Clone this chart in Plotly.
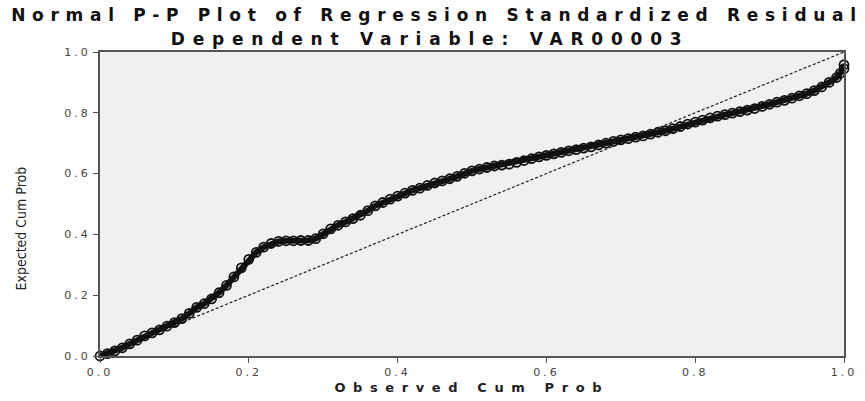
import plotly.graph_objects as go

# Observed cumulative probability (x) and expected cumulative probability (y)
observed_cum_prob = [
    0.000, 0.010, 0.020, 0.030, 0.040, 0.050, 0.060, 0.070, 0.080, 0.090,
    0.100, 0.110, 0.120, 0.130, 0.140, 0.150, 0.160, 0.170, 0.180, 0.190,
    0.200, 0.210, 0.220, 0.230, 0.240, 0.250, 0.260, 0.270, 0.280, 0.290,
    0.300, 0.310, 0.320, 0.330, 0.340, 0.350, 0.360, 0.370, 0.380, 0.390,
    0.400, 0.410, 0.420, 0.430, 0.440, 0.450, 0.460, 0.470, 0.480, 0.490,
    0.500, 0.510, 0.520, 0.530, 0.540, 0.550, 0.560, 0.570, 0.580, 0.590,
    0.600, 0.610, 0.620, 0.630, 0.640, 0.650, 0.660, 0.670, 0.680, 0.690,
    0.700, 0.710, 0.720, 0.730, 0.740, 0.750, 0.760, 0.770, 0.780, 0.790,
    0.800, 0.810, 0.820, 0.830, 0.840, 0.850, 0.860, 0.870, 0.880, 0.890,
    0.900, 0.910, 0.920, 0.930, 0.940, 0.950, 0.960, 0.970, 0.980, 0.990,
    0.995, 1.000, 1.000,
]
expected_cum_prob = [
    0.000, 0.008, 0.017, 0.027, 0.040, 0.052, 0.066, 0.076, 0.086, 0.098,
    0.110, 0.123, 0.140, 0.160, 0.172, 0.188, 0.208, 0.232, 0.260, 0.290,
    0.318, 0.341, 0.358, 0.370, 0.377, 0.379, 0.379, 0.380, 0.380, 0.386,
    0.402, 0.418, 0.430, 0.441, 0.452, 0.463, 0.478, 0.494, 0.505, 0.516,
    0.526, 0.536, 0.545, 0.552, 0.561, 0.569, 0.576, 0.583, 0.591, 0.601,
    0.609, 0.615, 0.620, 0.625, 0.628, 0.631, 0.637, 0.643, 0.649, 0.655,
    0.660, 0.665, 0.670, 0.675, 0.679, 0.684, 0.688, 0.694, 0.700, 0.706,
    0.711, 0.715, 0.720, 0.724, 0.730, 0.736, 0.741, 0.748, 0.755, 0.763,
    0.769, 0.776, 0.783, 0.789, 0.794, 0.799, 0.804, 0.809, 0.814, 0.821,
    0.828, 0.835, 0.841, 0.848, 0.856, 0.863, 0.873, 0.885, 0.900, 0.916,
    0.930, 0.945, 0.958,
]
reference_line = [0.0, 1.0]
tick_values = [0.0, 0.2, 0.4, 0.6, 0.8, 1.0]
tick_labels = ["0.0", "0.2", "0.4", "0.6", "0.8", "1.0"]

title_line1 = "Normal P-P Plot of Regression Standardized Residual"
title_line2 = "Dependent Variable: VAR00003"
x_title = "Observed Cum Prob"
y_title = "Expected Cum Prob"

fig = go.Figure()
fig.add_trace(go.Scatter(
    x=reference_line, y=reference_line, mode="lines",
    line=dict(color="#222222", width=1.2, dash="3px,2px"),
    cliponaxis=False, showlegend=False, hoverinfo="skip",
))
fig.add_trace(go.Scatter(
    x=observed_cum_prob, y=expected_cum_prob, mode="lines+markers",
    line=dict(color="#111111", width=6),
    marker=dict(symbol="circle-open", size=9, color="#111111", line=dict(width=1.8)),
    cliponaxis=False, showlegend=False,
))

axis_font = dict(family="DejaVu Sans, Arial, sans-serif", size=11, color="#444444")
fig.update_xaxes(
    range=[0, 1], tickvals=tick_values, ticktext=tick_labels,
    showgrid=False, zeroline=False, showline=True, linecolor="#555555", linewidth=2,
    mirror=True, ticks="outside", ticklen=5, tickcolor="#555555", tickfont=axis_font,
)
fig.update_yaxes(
    range=[0, 1], tickvals=tick_values, ticktext=tick_labels,
    showgrid=False, zeroline=False, showline=True, linecolor="#555555", linewidth=2,
    mirror=True, ticks="outside", ticklen=5, tickcolor="#555555", tickfont=axis_font,
)

title_font = dict(family="DejaVu Sans, Arial, sans-serif", size=17, color="#111111")
fig.update_layout(
    width=865, height=401,
    margin=dict(l=100, r=14, t=52, b=45),
    paper_bgcolor="white", plot_bgcolor="#f0f0f0",
    annotations=[
        dict(text="<b>" + title_line1 + "</b>", xref="paper", yref="paper",
             x=0.453, y=1.122, showarrow=False, xanchor="center", yanchor="middle",
             font=title_font),
        dict(text="<b>" + title_line2 + "</b>", xref="paper", yref="paper",
             x=0.444, y=1.043, showarrow=False, xanchor="center", yanchor="middle",
             font=title_font),
        dict(text="<b>" + x_title + "</b>", xref="paper", yref="paper",
             x=0.5, y=-0.102, showarrow=False, xanchor="center", yanchor="middle",
             font=dict(family="DejaVu Sans, Arial, sans-serif", size=13, color="#222222")),
        dict(text=y_title, xref="paper", yref="paper",
             x=-0.106, y=0.42, showarrow=False, xanchor="center", yanchor="middle",
             textangle=-90,
             font=dict(family="Liberation Sans Narrow, Arial Narrow, DejaVu Sans Condensed, sans-serif",
                       size=14, color="#222222")),
    ],
)

page_js = """
document.body.style.margin = '0';
document.body.style.overflow = 'hidden';
var gd = document.getElementById('{plot_id}');
gd.querySelectorAll('.annotation-text').forEach(function(t){
  var s = t.textContent;
  if (s.indexOf('Normal') === 0) { t.style.letterSpacing = '6.7px'; }
  else if (s.indexOf('Dependent') === 0) { t.style.letterSpacing = '7.8px'; }
  else if (s.indexOf('Observed') === 0) { t.style.letterSpacing = '7.6px'; }
});
gd.querySelectorAll('.xtick text, .ytick text').forEach(function(t){
  t.style.letterSpacing = '3px';
});
"""

fig.write_html("out.html", post_script=page_js, config={"displayModeBar": False})
